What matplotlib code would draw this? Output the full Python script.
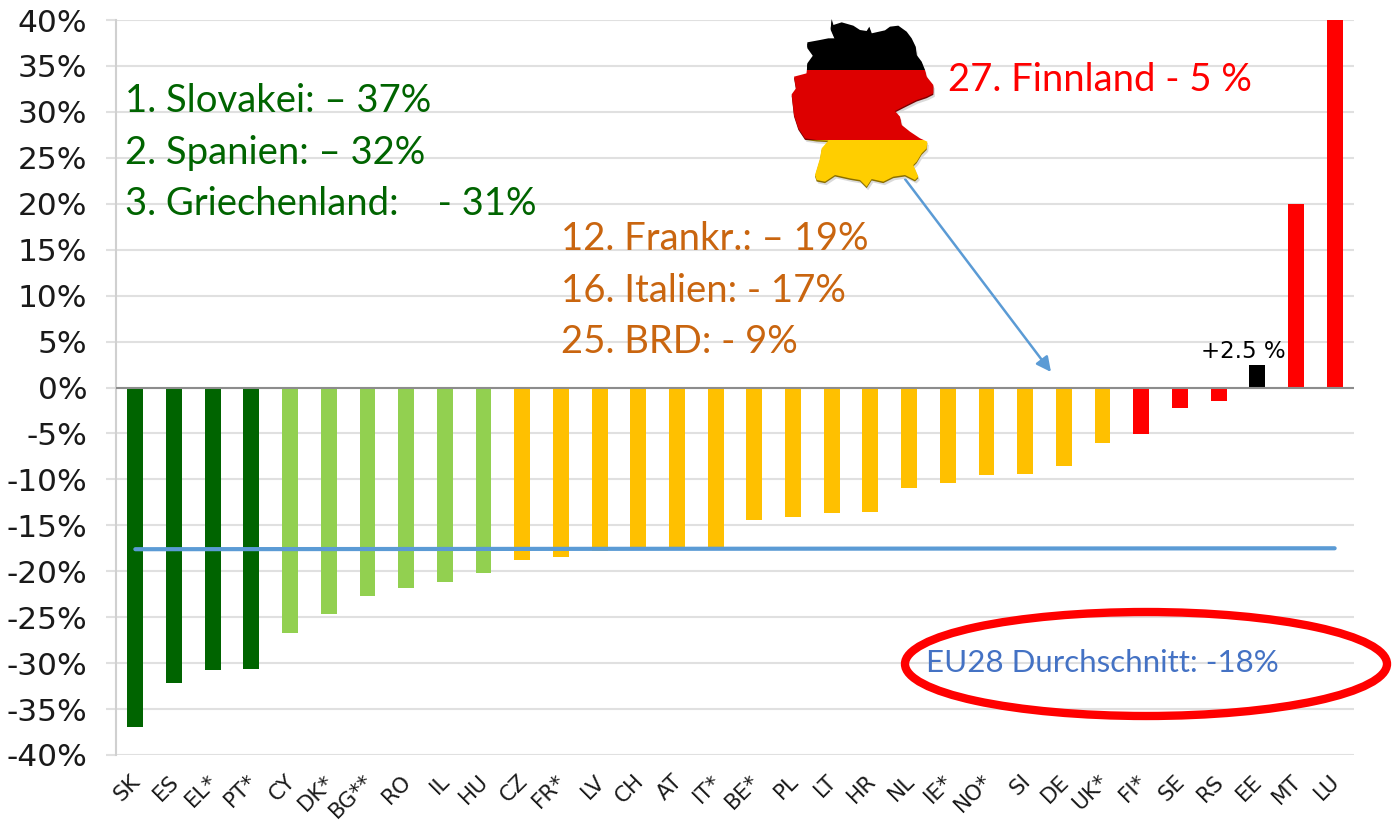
import matplotlib
matplotlib.use("Agg")
import matplotlib.pyplot as plt
from matplotlib.patches import Ellipse, Polygon, Rectangle, FancyArrowPatch

countries = ["SK","ES","EL*","PT*","CY","DK*","BG**","RO","IL","HU","CZ","FR*","LV","CH","AT","IT*",
             "BE*","PL","LT","HR","NL","IE*","NO*","SI","DE","UK*","FI*","SE","RS","EE","MT","LU"]
values = [-36.9,-32.2,-30.8,-30.6,-26.7,-24.6,-22.7,-21.8,-21.2,-20.2,-18.8,-18.5,-17.8,-17.6,-17.6,-17.6,
          -14.4,-14.1,-13.7,-13.6,-10.9,-10.4,-9.5,-9.4,-8.5,-6.0,-5.1,-2.2,-1.5,2.5,20.0,40.0]
DG, LG, OR, RD, BK = "#006400", "#92D050", "#FFC000", "#FF0000", "#000000"
colors = [DG]*4 + [LG]*6 + [OR]*16 + [RD]*3 + [BK] + [RD]*2
avg_line = [-17.6, -17.5]
yticks = list(range(-40, 45, 5))

W, H = 1394, 825
fig = plt.figure(figsize=(W/100, H/100), dpi=100, facecolor="white")
L, R, T, B = 116, 1354, 20, 755
ax = fig.add_axes([L/W, 1-B/H, (R-L)/W, (B-T)/H])
ax.set_ylim(-40, 40)
ax.set_xlim(-0.5, 31.5)
ax.set_axisbelow(True)
ax.grid(axis="y", color="#E0E0E0", lw=1.5)
ax.bar(range(len(values)), values, width=0.41, color=colors, zorder=2)
ax.plot([0, 31], avg_line, color="#5B9BD5", lw=3, zorder=3, solid_capstyle="round")
ax.axhline(0, color="#8C8C8C", lw=1.5, zorder=4)

for s in ("top", "right", "bottom"):
    ax.spines[s].set_visible(False)
ax.spines["left"].set_color("#D0D0D0")
ax.spines["left"].set_linewidth(1.5)
ax.set_yticks(yticks)
ax.set_yticklabels([f"{v}%" for v in yticks], fontsize=22.5, color="#1A1A1A")
ax.tick_params(axis="y", length=7, width=1.5, color="#E0E0E0", pad=13.5)
ax.set_xticks(range(len(values)))
ax.set_xticklabels([])
ax.tick_params(axis="x", length=0)

def P(x, y):
    return x/W, 1-y/H

# category labels, rotated, ending under each bar
for i, c in enumerate(countries):
    xd = ax.transData.transform((i, 0))[0]
    fig.text((xd-5)/W, 1-771/H, c, rotation=45, ha="right", va="top", rotation_mode="anchor",
             fontsize=15.5, color="#1A1A1A")

ff = "Lato"
def T_(x, y, s, color, size):
    fig.text(x/W, 1-y/H, s, color=color, fontsize=size, family=ff, va="center", ha="left")
DT = "#006400"; OT = "#C9650F"
S = 27.5
T_(125, 101, "1. Slovakei: – 37%", DT, S)
T_(125, 153, "2. Spanien: – 32%", DT, S)
T_(125, 204, "3. Griechenland:    - 31%", DT, S)
T_(561, 239, "12. Frankr.: – 19%", OT, S)
T_(561, 291, "16. Italien: - 17%", OT, S)
T_(561, 342, "25. BRD: - 9%", OT, S)
T_(948, 80, "27. Finnland - 5 %", "#FF0000", S)
T_(926, 663, "EU28 Durchschnitt: -18%", "#4472C4", 22.5)
fig.text(1243/W, 1-351/H, "+2.5 %", color="black", fontsize=16.5, ha="center", va="center")

fig.add_artist(Ellipse(P(1146, 664), width=482/W, height=104/H, transform=fig.transFigure,
                       fill=False, ec="#FF0000", lw=6, zorder=6))

# Map of Germany: outline traced in zoom-crop pixels
outline = [(185,42),(190,60),(215,52),(250,62),(270,75),(290,78),(298,65),(305,85),(345,76),(360,65),(385,62),
           (410,80),(425,100),(437,125),(440,150),(455,170),(465,195),(470,215),(490,240),(490,265),(470,275),
           (440,285),(400,305),(375,318),(390,335),(395,360),(420,380),(450,400),(472,410),(470,430),(455,445),
           (440,470),(430,480),(445,515),(435,525),(405,510),(370,515),(340,530),(305,522),(290,545),(270,525),
           (240,520),(195,510),(165,530),(140,525),(135,510),(150,460),(155,430),(175,407),(140,405),(105,400),
           (85,370),(72,330),(65,268),(78,250),(72,215),(110,205),(112,175),(130,150),(112,125),(112,112),
           (150,105),(175,100),(195,100),(182,70)]
pts = [(770+x/3, 5+y/3) for x, y in outline]
fig.add_artist(Polygon([P(x+1.5, y+3.5) for x, y in pts], transform=fig.transFigure, fc="#DADADA", ec="none", zorder=7))
bands = [(0, 69.5, "#000000", "#000000"), (69.5, 140, "#DD0000", "#7A0000"), (140, 200, "#FFCE00", "#8A6E00")]
for y0, y1, col, edge in bands:
    for off, c in ((1.5, edge), (0, col)):
        poly = Polygon([P(x, y+off) for x, y in pts], transform=fig.transFigure, fc=c, ec="none", zorder=8)
        fig.add_artist(poly)
        poly.set_clip_path(Rectangle(P(700, y1), 300/W, (y1-y0)/H, transform=fig.transFigure))

fig.add_artist(FancyArrowPatch(P(905, 179), P(1051, 372), transform=fig.transFigure, arrowstyle="-|>",
                               mutation_scale=22, color="#5B9BD5", lw=1.8, zorder=6, shrinkA=0, shrinkB=0))

fig.savefig("out.png", dpi=100, facecolor="white")
